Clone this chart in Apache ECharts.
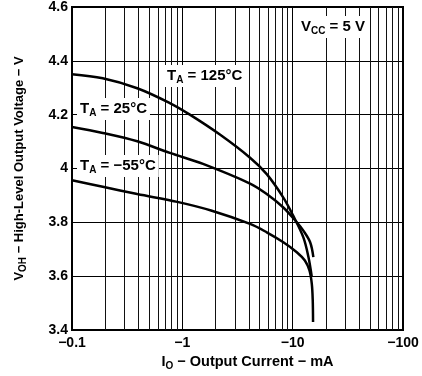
<!DOCTYPE html>
<html>
<head>
<meta charset="UTF-8">
<title>VOH vs IO</title>
<style>
  * { margin: 0; padding: 0; }
  html, body { width: 422px; height: 376px; background: #fff; }
  #chart { width: 422px; height: 376px; }
</style>
<script src="https://cdn.jsdelivr.net/npm/echarts@6/dist/echarts.min.js"></script>
</head>
<body>
<div id="chart"></div>
<script>
  // output current magnitude (mA, plotted as negative) and VOH (V)
  const current125 = [0.1, 0.19, 0.39, 0.77, 1.17, 2.19, 4.11, 5.82, 8.23, 10.1, 12.5, 13.9, 14.9]
  const vout125 = [4.35, 4.335, 4.298, 4.243, 4.2, 4.126, 4.04, 3.979, 3.892, 3.825, 3.744, 3.671, 3.597]

  const current25 = [0.1, 0.19, 0.39, 0.77, 1.54, 4.11, 5.82, 8.23, 10.9, 12.5, 14.4, 15.4]
  const vout25 = [4.154, 4.132, 4.101, 4.058, 4.017, 3.944, 3.905, 3.855, 3.8, 3.769, 3.726, 3.671]

  const currentM55 = [0.1, 0.19, 0.39, 0.9, 1.82, 4.11, 5.82, 8.23, 10.9, 12.9, 14.2, 14.9, 15.2, 15.3]
  const voutM55 = [3.956, 3.932, 3.905, 3.876, 3.844, 3.794, 3.763, 3.726, 3.689, 3.658, 3.621, 3.572, 3.511, 3.43]

  const xTicks = [0.1, 1, 10, 100]
  const yTicks = [3.4, 3.6, 3.8, 4, 4.2, 4.4, 4.6]

  const font = '"Liberation Sans", Arial, sans-serif'

  function pairs(xs, ys) {
    return xs.map((x, i) => [x, ys[i]])
  }

  // log-decade minor grid lines (2..9 in each decade)
  const minorLines = []
  xTicks.slice(0, -1).forEach(d => {
    for (let k = 2; k <= 9; k++) minorLines.push({ xAxis: +(d * k).toPrecision(3) })
  })

  function curve(name, data, withGrid) {
    const s = {
      name: name,
      type: 'line',
      data: data,
      smooth: 0.35,
      symbol: 'none',
      lineStyle: { color: '#000', width: 2.5 },
      z: 5
    }
    if (withGrid) {
      s.markLine = {
        silent: true,
        symbol: 'none',
        animation: false,
        label: { show: false },
        lineStyle: { color: '#111', width: 1, type: 'solid' },
        data: minorLines
      }
    }
    return s
  }

  function rich(size, subSize, drop) {
    return {
      m: { fontFamily: font, fontWeight: 'bold', fontSize: size, color: '#000' },
      s: { fontFamily: font, fontWeight: 'bold', fontSize: subSize, color: '#000', padding: [drop, 0, 0, 0] }
    }
  }

  function tag(x, y, text) {
    return {
      type: 'text',
      left: x,
      top: y,
      z: 100,
      style: {
        text: text,
        rich: rich(15, 10, 8),
        backgroundColor: '#fff',
        padding: [2, 3, 2, 3]
      }
    }
  }

  const chart = echarts.init(document.getElementById('chart'))
  chart.setOption({
    animation: false,
    grid: {
      left: 72, right: 19, top: 5, bottom: 46,
      show: true,
      borderColor: '#000',
      borderWidth: 2
    },
    xAxis: {
      type: 'log',
      logBase: 10,
      min: xTicks[0],
      max: xTicks[xTicks.length - 1],
      axisLine: { lineStyle: { color: '#000', width: 2 } },
      axisTick: { show: false },
      splitLine: { show: true, lineStyle: { color: '#000', width: 1 } },
      axisLabel: {
        color: '#000', fontFamily: font, fontWeight: 'bold', fontSize: 14, margin: 6,
        formatter: v => '\u2212' + v
      },
      name: '{m|I}{s|O}{m| \u2212 Output Current \u2212 mA}',
      nameLocation: 'middle',
      nameGap: 23,
      nameTextStyle: { rich: rich(14.5, 10, 7), padding: [0, 0, 0, 20] }
    },
    yAxis: {
      type: 'value',
      min: yTicks[0],
      max: yTicks[yTicks.length - 1],
      interval: 0.2,
      axisLine: { show: true, lineStyle: { color: '#000', width: 2 } },
      axisTick: { show: false },
      splitLine: { show: true, lineStyle: { color: '#000', width: 1 } },
      axisLabel: {
        color: '#000', fontFamily: font, fontWeight: 'bold', fontSize: 14, margin: 4,
        formatter: v => String(+v.toFixed(1))
      },
      name: '{m|V}{s|OH}{m| \u2212 High-Level Output Voltage \u2212 V}',
      nameLocation: 'middle',
      nameRotate: 90,
      nameGap: 44,
      nameTextStyle: { rich: rich(13, 10, 7) }
    },
    series: [
      curve('125', pairs(current125, vout125), true),
      curve('25', pairs(current25, vout25), false),
      curve('-55', pairs(currentM55, voutM55), false)
    ],
    graphic: [
      tag(164, 65, '{m|T}{s|A}{m| = 125°C}'),
      tag(77, 98, '{m|T}{s|A}{m| = 25°C}'),
      tag(77, 155, '{m|T}{s|A}{m| = \u221255°C}'),
      tag(298, 16, '{m|V}{s|CC}{m| = 5 V}')
    ]
  })
</script>
</body>
</html>
